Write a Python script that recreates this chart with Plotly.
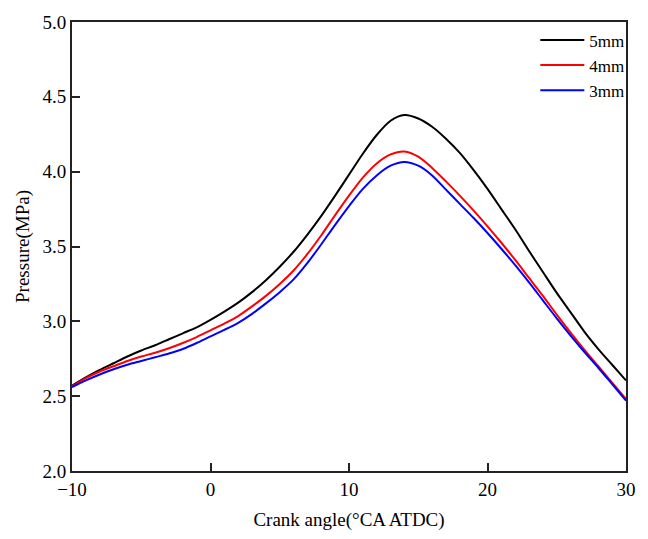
import plotly.graph_objects as go

crank_angle = list(range(-10, 31))

p_5mm = [2.57, 2.625, 2.675, 2.72, 2.765, 2.805, 2.84, 2.88, 2.92, 2.96,
         3.01, 3.065, 3.125, 3.195, 3.275, 3.365, 3.465, 3.58, 3.705, 3.84,
         3.98, 4.12, 4.245, 4.34, 4.378, 4.355, 4.30, 4.22, 4.125, 4.01,
         3.885, 3.75, 3.615, 3.47, 3.33, 3.19, 3.06, 2.93, 2.815, 2.71, 2.605]

p_4mm = [2.565, 2.62, 2.665, 2.70, 2.735, 2.765, 2.79, 2.82, 2.855, 2.895,
         2.94, 2.985, 3.035, 3.10, 3.17, 3.25, 3.34, 3.45, 3.575, 3.71,
         3.84, 3.96, 4.055, 4.115, 4.135, 4.10, 4.025, 3.935, 3.84, 3.74,
         3.635, 3.525, 3.41, 3.29, 3.17, 3.045, 2.925, 2.81, 2.70, 2.59, 2.48]

p_3mm = [2.56, 2.605, 2.645, 2.68, 2.71, 2.735, 2.76, 2.785, 2.815, 2.855,
         2.90, 2.943, 2.99, 3.05, 3.12, 3.195, 3.28, 3.39, 3.515, 3.645,
         3.77, 3.885, 3.975, 4.04, 4.065, 4.04, 3.975, 3.88, 3.785, 3.69,
         3.59, 3.485, 3.375, 3.26, 3.14, 3.02, 2.905, 2.795, 2.69, 2.58, 2.47]

series = [("5mm", p_5mm, "#000000"), ("4mm", p_4mm, "#ff0000"), ("3mm", p_3mm, "#0000ff")]

x_ticks = [-10, 0, 10, 20, 30]
y_ticks = [2.0, 2.5, 3.0, 3.5, 4.0, 4.5, 5.0]

FONT = "Liberation Serif, Times New Roman, serif"

fig = go.Figure()
for name, vals, color in series:
    fig.add_trace(go.Scatter(
        x=crank_angle, y=vals, mode="lines", name=name,
        line=dict(color=color, width=2, shape="spline", smoothing=0.8),
    ))

fig.update_layout(
    width=648, height=539,
    margin=dict(l=72, r=13, t=22, b=63),
    paper_bgcolor="white", plot_bgcolor="white",
    font=dict(family=FONT, size=19, color="#000000"),
    showlegend=True,
    legend=dict(x=1.006, y=0.999, xanchor="right", yanchor="top",
                bgcolor="rgba(0,0,0,0)", borderwidth=0,
                font=dict(family=FONT, size=17),
                itemwidth=44, tracegroupgap=0),
)
fig.update_xaxes(
    range=[-10, 30], tickvals=x_ticks,
    showgrid=False, zeroline=False,
    showline=True, linecolor="#222222", linewidth=2, mirror=True,
    ticks="inside", ticklen=8, tickwidth=1.5, tickcolor="#222222",
    title=dict(text="Crank angle(°CA ATDC)", font=dict(family=FONT, size=19), standoff=14),
)
fig.update_yaxes(
    range=[2.0, 5.0], tickvals=y_ticks, tickformat=".1f",
    showgrid=False, zeroline=False,
    showline=True, linecolor="#222222", linewidth=2, mirror=True,
    ticks="inside", ticklen=8, tickwidth=1.5, tickcolor="#222222",
    title=dict(text="Pressure(MPa)", font=dict(family=FONT, size=19), standoff=8),
)

fig.write_html("out.html")
